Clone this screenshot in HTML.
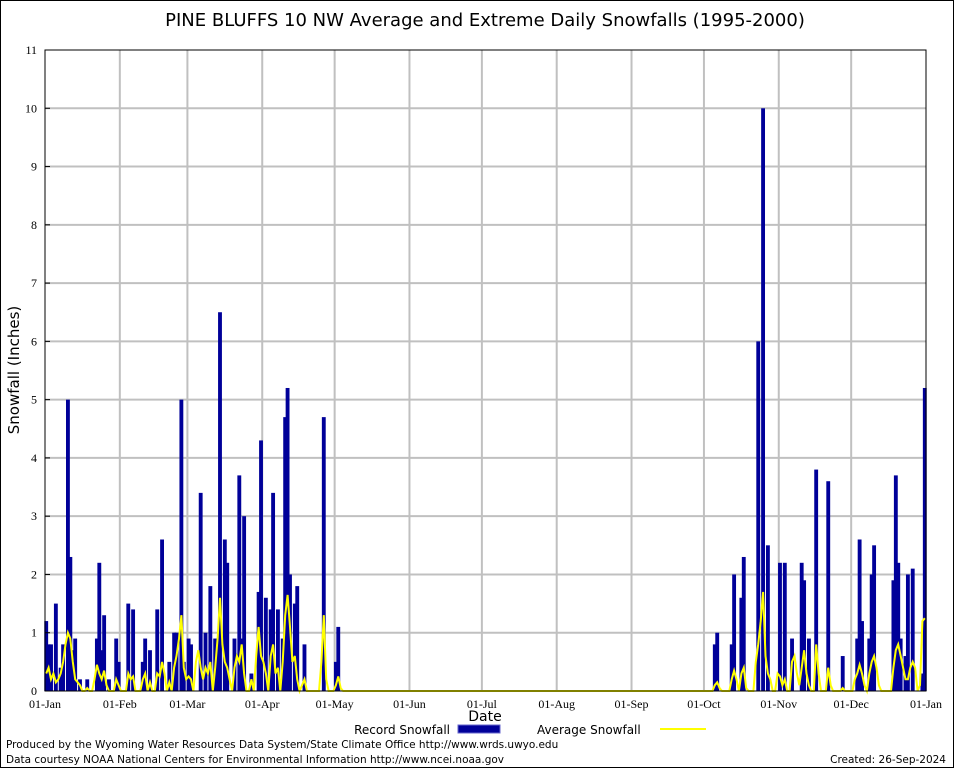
<!DOCTYPE html>
<html><head><meta charset="utf-8"><style>
body{margin:0;background:#fff}
svg text{font-family:"DejaVu Sans","Liberation Sans",sans-serif}
.tick{font-family:"Liberation Serif",serif;font-size:12px}
</style></head><body>
<svg id="chart" width="954" height="768" xmlns="http://www.w3.org/2000/svg">
<rect x="0.5" y="0.5" width="953" height="767" fill="#fff" stroke="#000"/>
<text x="485" y="26" font-size="18" text-anchor="middle">PINE BLUFFS 10 NW Average and Extreme Daily Snowfalls (1995-2000)</text>
<g id="grid"></g>
<g id="bars"></g>
<polyline id="avgline" fill="none" stroke="#ffff00" stroke-width="2"/>
<rect x="45" y="50" width="881" height="641" fill="none" stroke="#000"/>
<g id="axes"></g>
<text transform="translate(19,370) rotate(-90)" font-size="15" text-anchor="middle">Snowfall (Inches)</text>
<text x="485" y="721" font-size="14" text-anchor="middle">Date</text>
<text x="450" y="734" font-size="12" text-anchor="end">Record Snowfall</text>
<rect x="458" y="725" width="42" height="8" fill="#000099" stroke="#6666cc"/>
<text x="537" y="734" font-size="12">Average Snowfall</text>
<line x1="660" y1="729" x2="706" y2="729" stroke="#ffff00" stroke-width="2"/>
<text x="6" y="748" font-size="10.5">Produced by the Wyoming Water Resources Data System/State Climate Office http://www.wrds.uwyo.edu</text>
<text x="6" y="763" font-size="10.5">Data courtesy NOAA National Centers for Environmental Information http://www.ncei.noaa.gov</text>
<text x="946" y="763" font-size="10.5" text-anchor="end">Created: 26-Sep-2024</text>
</svg>
<script>
const monthLabels=["01-Jan","01-Feb","01-Mar","01-Apr","01-May","01-Jun","01-Jul","01-Aug","01-Sep","01-Oct","01-Nov","01-Dec","01-Jan"];
const monthStartDays=[0,31,59,90,120,151,181,212,243,273,304,334,365];
const yTicks=[0,1,2,3,4,5,6,7,8,9,10,11];
const recordDays=[0,1,2,4,6,7,9,10,11,12,14,17,21,22,23,24,26,29,30,34,36,40,41,43,46,48,51,53,54,56,57,59,60,64,66,68,70,71,72,74,75,78,80,81,82,85,88,89,91,93,94,96,98,99,100,101,103,104,107,115,120,121,
277,278,284,285,288,289,295,297,299,304,306,309,313,314,316,319,324,330,336,337,338,341,342,343,351,352,353,354,356,357,359,363,364];
const recordValues=[1.2,0.8,0.8,1.5,0.4,0.8,5.0,2.3,0.7,0.9,0.2,0.2,0.9,2.2,0.7,1.3,0.2,0.9,0.5,1.5,1.4,0.5,0.9,0.7,1.4,2.6,0.5,1.0,1.0,5.0,0.5,0.9,0.8,3.4,1.0,1.8,0.9,0.9,6.5,2.6,2.2,0.9,3.7,0.9,3.0,0.3,1.7,4.3,1.6,1.4,3.4,1.4,0.9,4.7,5.2,2.0,1.5,1.8,0.8,4.7,0.5,1.1,
0.8,1.0,0.8,2.0,1.6,2.3,6.0,10.0,2.5,2.2,2.2,0.9,2.2,1.9,0.9,3.8,3.6,0.6,0.9,2.6,1.2,0.9,2.0,2.5,1.9,3.7,2.2,0.9,0.6,2.0,2.1,0.3,5.2];
const avgDays=[0,1,2,3,4,5,6,7,8,9,10,11,12,13,14,17,20,21,22,23,24,25,29,30,34,35,36,40,41,43,46,47,48,49,51,53,54,55,56,57,58,59,60,62,63,64,65,66,67,68,70,71,72,73,74,75,76,78,79,80,81,82,85,87,88,89,90,91,93,94,95,96,98,99,100,101,102,103,104,106,107,114,115,116,120,121,122,
277,278,279,284,285,286,288,289,290,294,295,296,297,298,299,300,303,304,305,306,309,310,311,312,313,314,315,316,319,320,324,325,330,335,336,337,338,339,341,342,343,344,345,351,352,353,354,355,356,357,358,359,360,362,363,364];
const avgValues=[0.3,0.4,0.2,0.3,0.15,0.2,0.3,0.5,0.8,1.0,0.9,0.5,0.2,0.15,0.1,0.05,0.2,0.45,0.3,0.2,0.35,0.1,0.2,0.1,0.3,0.2,0.25,0.2,0.3,0.15,0.3,0.25,0.5,0.3,0.15,0.4,0.6,0.9,1.3,0.4,0.2,0.25,0.2,0.5,0.7,0.4,0.2,0.4,0.3,0.5,0.4,0.9,1.6,0.8,0.5,0.4,0.2,0.4,0.6,0.5,0.8,0.3,0.2,0.6,1.1,0.6,0.5,0.3,0.6,0.8,0.3,0.4,0.5,1.3,1.65,1.1,0.5,0.6,0.2,0.1,0.2,0.5,1.3,0.2,0.1,0.25,0.05,
0.1,0.15,0.05,0.2,0.35,0.2,0.3,0.4,0.05,0.5,0.8,1.2,1.7,0.6,0.3,0.2,0.3,0.25,0.1,0.2,0.5,0.6,0.3,0.1,0.4,0.7,0.3,0.1,0.8,0.3,0.4,0.1,0.05,0.2,0.3,0.45,0.3,0.1,0.3,0.5,0.6,0.4,0.1,0.4,0.7,0.8,0.6,0.4,0.2,0.2,0.4,0.5,0.4,0.1,1.2,1.25];
const X0=45,X1=926,Y0=691,Y1=50,NS="http://www.w3.org/2000/svg";
const xs=d=>X0+d*(X1-X0)/365;
const ys=v=>Y0-v*(Y0-Y1)/11;
function mk(tag,attrs,parent){const e=document.createElementNS(NS,tag);for(const k in attrs)e.setAttribute(k,attrs[k]);parent.appendChild(e);return e;}
const grid=document.getElementById('grid'),axes=document.getElementById('axes'),bars=document.getElementById('bars');
yTicks.forEach(t=>{
  if(t>0&&t<11){const l=mk('line',{x1:X0,x2:X1,y1:ys(t),y2:ys(t),stroke:'#c0c0c0','stroke-width':2},grid);
  
  }
  const tk=mk('line',{x1:X0,x2:X0+5,y1:ys(t),y2:ys(t),stroke:'#000'},axes);
  
  
  const tx=mk('text',{x:X0-8,y:ys(t)+4,'text-anchor':'end',class:'tick'},axes);
  tx.textContent=t;
  
  
});
monthStartDays.forEach((d,i)=>{
  if(i>0&&i<12){const l=mk('line',{x1:xs(d),x2:xs(d),y1:Y1,y2:Y0,stroke:'#c0c0c0','stroke-width':2},grid);
  
  }
  const tx=mk('text',{x:xs(d),y:708,'text-anchor':'middle',class:'tick'},axes);
  tx.textContent=monthLabels[i];
  
  
});
recordDays.forEach((d,i)=>{
  const w=(X1-X0)/365;
  const r=mk('rect',{x:xs(d)-0.3*w,y:ys(recordValues[i]),width:w*1.6,height:Y0-ys(recordValues[i]),fill:'#000099'},bars);
  
  
});
const full=new Array(365).fill(0);
avgDays.forEach((d,i)=>full[d]=avgValues[i]);
document.getElementById('avgline').setAttribute('points',full.map((v,d)=>xs(d+0.5).toFixed(1)+','+ys(v).toFixed(1)).join(' '));
</script>
</body></html>
